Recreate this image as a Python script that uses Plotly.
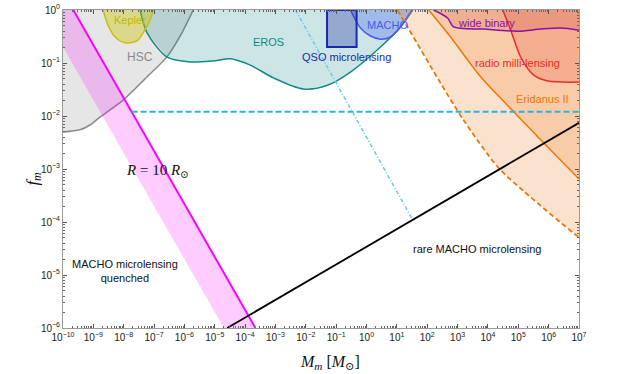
import numpy as np
import plotly.graph_objects as go

# ---- data (log10 values) ----
hsc_logm = [-10.0, -9.44, -9.11, -8.78, -8.02, -7.3, -6.57, -6.1, -5.71]
hsc_logf = [-2.30, -2.26, -2.17, -2.02, -1.70, -1.30, -0.88, -0.45, 0.0]

kepler_logm = [-8.68, -8.52, -8.28, -7.95, -7.56, -7.36, -7.13, -7.03]
kepler_logf = [0.0, -0.28, -0.51, -0.62, -0.58, -0.43, -0.19, 0.0]

eros_logm = [-7.46, -7.23, -6.57, -5.81, -5.05, -4.49, -3.83, -3.07, -2.08, -1.29, -0.53, 0.36, 1.12, 1.52]
eros_logf = [0.0, -0.43, -0.89, -0.98, -0.96, -0.92, -1.04, -1.28, -1.49, -1.42, -1.17, -0.75, -0.32, 0.0]

macho_logm = [-0.53, -0.20, 0.13, 0.46, 0.79, 1.12, 1.39, 1.5]
macho_logf = [0.0, -0.34, -0.49, -0.55, -0.51, -0.32, -0.09, 0.0]

qso_m = [0.05, 0.47]
qso_f = [0.2, 1.0]

band_logm = [-10.0, -4.70, -3.66, -9.66, -10.0]
band_logf = [-0.70, -6.0, -6.0, 0.0, 0.0]
band_edge_logm = [-9.66, -3.66]
band_edge_logf = [0.0, -6.0]

rare_logm = [-4.59, 7.0]
rare_logf = [-6.0, -2.13]

cyan_dash_logm = [-7.74, 7.0]
cyan_dash_logf = [-1.92, -1.92]

cyan_dd_logm = [-2.34, 1.52]
cyan_dd_logf = [0.0, -3.96]

eri_lo_logm = [1.02, 1.35, 2.44, 3.20, 4.32, 5.18, 6.96, 7.0]
eri_lo_logf = [0.0, -0.32, -1.38, -2.08, -2.96, -3.42, -4.27, -4.28]

eri_hi_logm = [2.05, 2.77, 3.76, 4.85, 5.84, 7.0]
eri_hi_logf = [0.0, -0.51, -1.26, -1.92, -2.51, -3.19]

radio_logm = [4.49, 4.75, 5.08, 5.51, 5.97, 7.0]
radio_logf = [0.0, -0.38, -0.89, -1.23, -1.34, -1.36]

wb_logm = [2.21, 2.67, 2.87, 3.86, 4.98, 5.74, 6.40, 7.0]
wb_logf = [0.0, -0.15, -0.32, -0.36, -0.40, -0.36, -0.34, -0.38]

x_decades = list(range(-10, 8))
y_decades = list(range(-6, 1))


def p(a):
    return list(10 ** np.array(a, dtype=float))


fig = go.Figure()


def region(lm, lf, fill, close=(), line=None, dash=None, width=1.5, smooth=True):
    xs = list(lm) + [c[0] for c in close]
    ys = list(lf) + [c[1] for c in close]
    fig.add_trace(go.Scatter(x=p(xs), y=p(ys), mode="lines", fill="toself",
                             fillcolor=fill, line=dict(width=0), hoverinfo="skip",
                             showlegend=False))
    if line:
        fig.add_trace(go.Scatter(x=p(lm), y=p(lf), mode="lines",
                                 line=dict(color=line, width=width, dash=dash,
                                           shape="spline" if smooth else "linear",
                                           smoothing=0.8),
                                 hoverinfo="skip", showlegend=False))


region(hsc_logm, hsc_logf, "rgba(128,128,128,0.2)", close=[(-10, 0)], line="#8a8a8a")
region(eros_logm, eros_logf, "rgba(0,128,128,0.2)", line="#158888")
region(kepler_logm, kepler_logf, "rgba(205,195,0,0.4)", line="#c8c010")
region(macho_logm, macho_logf, "rgba(60,90,230,0.3)", line="#4a5af0")
fig.add_trace(go.Scatter(x=[qso_m[0], qso_m[1], qso_m[1], qso_m[0], qso_m[0]],
                         y=[qso_f[1], qso_f[1], qso_f[0], qso_f[0], qso_f[1]],
                         mode="lines", fill="toself", fillcolor="rgba(20,30,160,0.3)",
                         line=dict(color="#1a28b0", width=2), hoverinfo="skip", showlegend=False))
region(band_logm, band_logf, "rgba(255,0,255,0.2)")
fig.add_trace(go.Scatter(x=p(band_edge_logm), y=p(band_edge_logf), mode="lines",
                         line=dict(color="#ff00ff", width=2), hoverinfo="skip", showlegend=False))

region(eri_lo_logm, eri_lo_logf, "rgba(240,140,60,0.25)", close=[(7, 0)],
       line="#e8780a", dash="5px,3px", width=1.8)
region(eri_hi_logm, eri_hi_logf, "rgba(240,140,60,0.25)", close=[(7, 0)],
       line="#e8780a", width=1.5)
region(radio_logm, radio_logf, "rgba(230,60,40,0.2)", close=[(7, 0)], line="#f02828")
region(wb_logm, wb_logf, "rgba(200,60,60,0.2)", close=[(7, 0)], line="#8a10a0")

fig.add_trace(go.Scatter(x=p(cyan_dash_logm), y=p(cyan_dash_logf), mode="lines",
                         line=dict(color="#2ab4e0", width=1.8, dash="6px,3px"),
                         hoverinfo="skip", showlegend=False))
fig.add_trace(go.Scatter(x=p(cyan_dd_logm), y=p(cyan_dd_logf), mode="lines",
                         line=dict(color="#6cc8ec", width=1.5, dash="4px,2px,1px,2px"),
                         hoverinfo="skip", showlegend=False))
fig.add_trace(go.Scatter(x=p(rare_logm), y=p(rare_logf), mode="lines",
                         line=dict(color="#000000", width=1.8),
                         hoverinfo="skip", showlegend=False))

SANS = "Liberation Sans, Arial, sans-serif"
SERIF = "Liberation Serif, DejaVu Serif, serif"


def label(text, lx, ly, color, size=11, font=SANS):
    fig.add_annotation(x=lx, y=ly, xref="x", yref="y", text=text, showarrow=False,
                       xanchor="center", yanchor="middle",
                       font=dict(family=font, size=size, color=color))


label("Kepler", -7.79, -0.19, "#c0b800")
label("HSC", -7.46, -0.89, "#8a8a8a", 12)
label("EROS", -3.23, -0.60, "#158888")
label("QSO microlensing", -0.66, -0.89, "#1a28b0")
label("MACHO", 0.69, -0.28, "#4a5af0")
label("wide binary", 3.96, -0.25, "#8a10a0")
label("radio milli-lensing", 4.98, -1.0, "#f02828")
label("Eridanus II", 5.81, -1.68, "#e8780a")
label("MACHO microlensing<br>quenched", -7.95, -4.92, "#111111")
label("rare MACHO microlensing", 3.63, -4.51, "#111111")
label("<i>R</i> = 10 <i>R</i><sub>⊙</sub>", -6.9, -3.04, "#111111", 15, SERIF)

fig.add_annotation(x=0.517, y=-0.107, xref="paper", yref="paper", showarrow=False,
                   xanchor="center", yanchor="middle",
                   text="<i>M<sub>m</sub></i> [<i>M</i><sub>⊙</sub>]",
                   font=dict(family=SERIF, size=16, color="#111111"))
fig.add_annotation(x=-0.058, y=0.47, xref="paper", yref="paper", showarrow=False,
                   xanchor="center", yanchor="middle",
                   text="<i>f<sub>m</sub></i>", textangle=-90,
                   font=dict(family=SERIF, size=17, color="#111111"))


def dec_text(d):
    return "10<sup>" + str(d).replace("-", "−") + "</sup>"


def minor_vals(decs):
    return [k * 10.0 ** d for d in decs[:-1] for k in range(2, 10)]


def axis(decs):
    return dict(type="log", showgrid=False, zeroline=False, showline=True,
                linecolor="#9a9a9a", linewidth=1, mirror="ticks", ticks="inside",
                ticklen=4, tickcolor="#555555", automargin=False,
                tickmode="array", tickvals=[10.0 ** d for d in decs],
                ticktext=[dec_text(d) for d in decs],
                tickfont=dict(family=SANS, size=10, color="#222222"),
                minor=dict(ticks="inside", ticklen=2, tickcolor="#666666",
                           tickmode="array", tickvals=minor_vals(decs), showgrid=False),
                range=[decs[0], decs[-1]])


fig.update_layout(
    template="none",
    width=632, height=374,
    margin=dict(l=63, r=53, t=10, b=46, pad=0),
    paper_bgcolor="white", plot_bgcolor="white",
    xaxis=axis(x_decades),
    yaxis=axis(y_decades),
    showlegend=False,
)

fig.write_html("out.html", config={"displayModeBar": False},
               post_script="document.body.style.margin='0px';")
